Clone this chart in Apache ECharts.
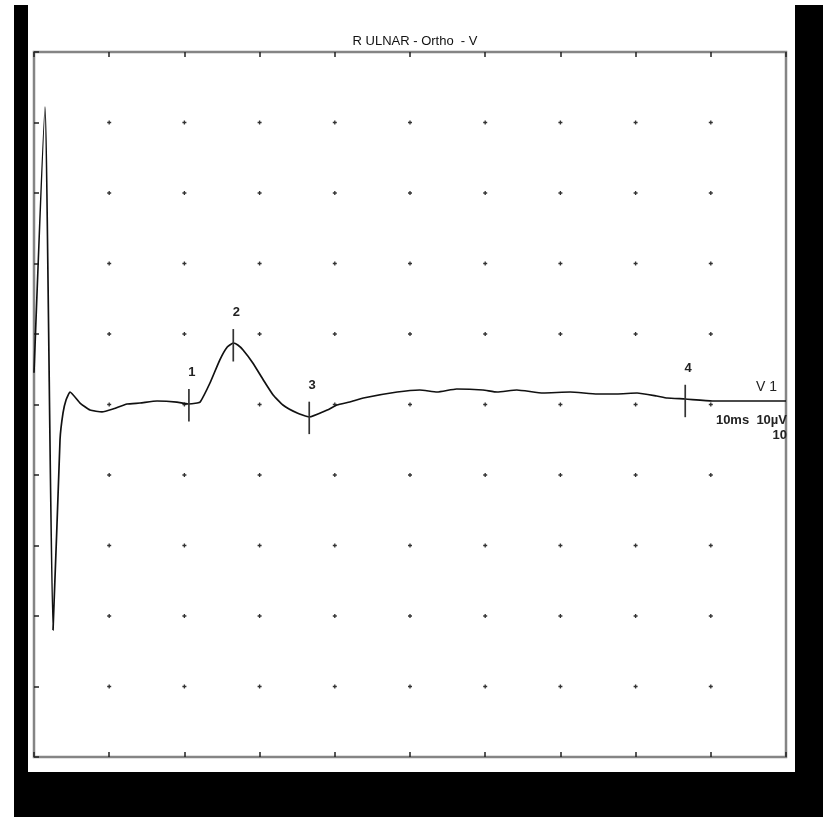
<!DOCTYPE html>
<html>
<head>
<meta charset="utf-8">
<script src="https://cdn.jsdelivr.net/npm/echarts@6/dist/echarts.min.js"></script>
<style>
html,body{margin:0;padding:0;background:#fff;width:823px;height:817px;overflow:hidden;}
#blk{position:absolute;left:14px;top:5px;width:809px;height:812px;background:#000;}
#wht{position:absolute;left:28px;top:0px;width:767px;height:772px;background:#fff;}
#chart{position:absolute;left:0;top:0;width:823px;height:817px;}
</style>
</head>
<body>
<div id="blk"></div>
<div id="wht"></div>
<div id="chart"></div>
<script>
// ---- data (ms, µV) ----
var title = 'R ULNAR - Ortho  - V';
var timeMs = [0, 1.46, 2.53, 3.46, 3.86, 4.26, 4.79, 6.12, 7.45, 9.04, 10.5, 12.37, 14.1, 16.36, 19.0, 20.5, 21.7, 22.1, 23.4, 24.7, 25.7, 26.5, 27.1, 27.8, 29.1, 30.5, 31.8, 33.1, 35.0, 36.6, 39.0, 40.3, 42.0, 43.8, 48.3, 51.3, 53.6, 56.2, 59.7, 61.6, 64.2, 67.7, 71.3, 74.9, 77.5, 80.2, 82.8, 84.2, 86.6, 90.2, 95.2, 100];
var ampUv = [4.5, 42.2, -32.0, -5.0, -1.2, 0.64, 1.77, 0.21, -0.78, -1.06, -0.64, 0.07, 0.21, 0.5, 0.35, 0.07, 0.21, 0.35, 3.05, 6.31, 8.16, 8.72, 8.44, 7.73, 5.89, 3.48, 1.35, -0.07, -1.21, -1.77, -0.78, -0.07, 0.35, 0.92, 1.77, 2.06, 1.77, 2.2, 2.06, 1.77, 2.06, 1.63, 1.77, 1.49, 1.49, 1.63, 1.21, 0.92, 0.78, 0.5, 0.5, 0.5];
var markerLabels = ['1', '2', '3', '4'];
var markerMs = [20.6, 26.5, 36.6, 86.6];
var markerUv = [-0.1, 8.4, -1.9, 0.5];
var xTicks = [0, 10, 20, 30, 40, 50, 60, 70, 80, 90, 100];
var yTicks = [-50, -40, -30, -20, -10, 0, 10, 20, 30, 40, 50];
var scaleText = '10ms  10µV';
var channelText = 'V 1';
var gainText = '10';

var trace = timeMs.map(function (t, i) { return [t, ampUv[i]]; });
var dots = [];
xTicks.slice(1, -1).forEach(function (x) {
  yTicks.slice(1, -1).forEach(function (y) { dots.push([x, y]); });
});
var markers = markerMs.map(function (t, i) { return [t, markerUv[i], markerLabels[i]]; });

var chart = echarts.init(document.getElementById('chart'), null, {renderer: 'canvas'});
var FONT = 'Liberation Sans, Arial, sans-serif';
var tickCfg = {show: true, inside: true, length: 5, lineStyle: {color: '#222', width: 1.5}};
chart.setOption({
  backgroundColor: 'transparent',
  animation: false,
  title: {text: title, left: 410, top: 30, textAlign: 'center',
    textStyle: {fontFamily: FONT, fontSize: 13, fontWeight: 'normal', color: '#111'}},
  grid: {left: 34, top: 52, width: 752, height: 705, show: true,
    borderColor: '#858585', borderWidth: 2.5, backgroundColor: 'transparent'},
  xAxis: [
    {type: 'value', min: 0, max: 100, interval: 10, position: 'bottom',
      axisLine: {show: false, onZero: false}, axisTick: tickCfg, axisLabel: {show: false}, splitLine: {show: false}},
    {type: 'value', min: 0, max: 100, interval: 10, position: 'top',
      axisLine: {show: false, onZero: false}, axisTick: tickCfg, axisLabel: {show: false}, splitLine: {show: false}}
  ],
  yAxis: [
    {type: 'value', min: -50, max: 50, interval: 10, position: 'left',
      axisLine: {show: false, onZero: false}, axisTick: tickCfg, axisLabel: {show: false}, splitLine: {show: false}},
    {type: 'value', min: -50, max: 50, interval: 10, position: 'right',
      axisLine: {show: false, onZero: false}, axisTick: {show: false}, axisLabel: {show: false}, splitLine: {show: false}}
  ],
  series: [
    {type: 'scatter', data: dots, symbol: 'path://M1 0h1v1h1v1h-1v1h-1v-1h-1v-1h1z', symbolSize: 4,
      itemStyle: {color: '#000'}, silent: true, z: 1},
    {type: 'line', data: trace, showSymbol: false, smooth: 0.15,
      lineStyle: {color: '#111', width: 1.7}, z: 3, silent: true},
    {type: 'custom', data: markers, z: 4, silent: true,
      renderItem: function (params, api) {
        var x = api.value(0), y = api.value(1);
        var top = api.coord([x, y + 2.3]);
        var bot = api.coord([x, y - 2.3]);
        return {type: 'group', children: [
          {type: 'line', shape: {x1: top[0], y1: top[1], x2: bot[0], y2: bot[1]},
            style: {stroke: '#333', lineWidth: 1.7}},
          {type: 'text', x: top[0] + 3, y: top[1] - 10,
            style: {text: markerLabels[params.dataIndex], fill: '#222', font: 'bold 13px ' + FONT,
              align: 'center', verticalAlign: 'bottom'}}
        ]};
      }}
  ],
  graphic: [
    {type: 'text', left: 756, top: 380, style: {text: channelText, fill: '#222', font: '14px ' + FONT}},
    {type: 'text', right: 36, top: 414, style: {text: scaleText, fill: '#222', font: 'bold 13px ' + FONT}},
    {type: 'text', right: 36, top: 429, style: {text: gainText, fill: '#222', font: 'bold 13px ' + FONT}}
  ]
});
</script>
</body>
</html>
